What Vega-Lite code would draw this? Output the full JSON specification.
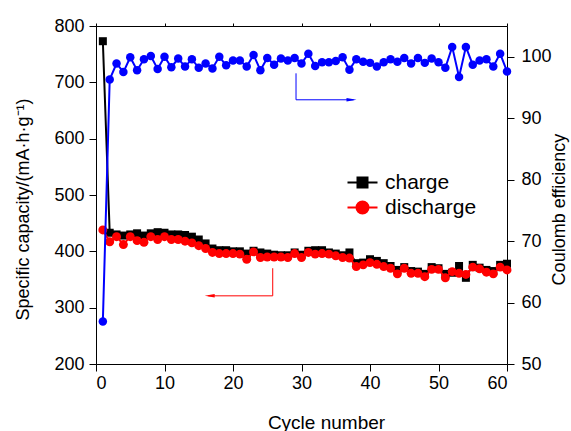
{
  "$schema": "https://vega.github.io/schema/vega-lite/v6.json",
  "width": 411,
  "height": 338,
  "autosize": {"type": "none"},
  "padding": {"left": 96, "top": 26, "right": 64, "bottom": 67},
  "background": "white",
  "config": {
    "view": {"stroke": null},
    "font": "Liberation Sans",
    "axis": {
      "domainColor": "black", "tickColor": "black", "labelColor": "black", "titleColor": "black",
      "labelFont": "Liberation Sans", "titleFont": "Liberation Sans",
      "labelFontSize": 18, "titleFontSize": 18, "titleFontWeight": "normal",
      "grid": false, "tickSize": 7, "domainWidth": 1, "tickWidth": 1
    }
  },
  "datasets": {
    "cycles": [
      {"cycle":1,"charge":773,"discharge":438,"eff":56.9},
      {"cycle":2,"charge":433,"discharge":417,"eff":96.3},
      {"cycle":3,"charge":430,"discharge":426,"eff":98.9},
      {"cycle":4,"charge":428,"discharge":412,"eff":97.5},
      {"cycle":5,"charge":430,"discharge":426,"eff":99.9},
      {"cycle":6,"charge":432,"discharge":419,"eff":97.8},
      {"cycle":7,"charge":428,"discharge":416,"eff":99.6},
      {"cycle":8,"charge":432,"discharge":426,"eff":100.1},
      {"cycle":9,"charge":434,"discharge":421,"eff":98.0},
      {"cycle":10,"charge":433,"discharge":426,"eff":100.0},
      {"cycle":11,"charge":430,"discharge":421,"eff":98.3},
      {"cycle":12,"charge":430,"discharge":421,"eff":99.7},
      {"cycle":13,"charge":429,"discharge":418,"eff":98.4},
      {"cycle":14,"charge":426,"discharge":415,"eff":99.6},
      {"cycle":15,"charge":421,"discharge":410,"eff":98.2},
      {"cycle":16,"charge":414,"discharge":405,"eff":98.9},
      {"cycle":17,"charge":405,"discharge":398,"eff":98.1},
      {"cycle":18,"charge":402,"discharge":396,"eff":100.0},
      {"cycle":19,"charge":402,"discharge":396,"eff":98.6},
      {"cycle":20,"charge":400,"discharge":396,"eff":99.4},
      {"cycle":21,"charge":400,"discharge":395,"eff":99.4},
      {"cycle":22,"charge":396,"discharge":386,"eff":98.4},
      {"cycle":23,"charge":401,"discharge":399,"eff":100.3},
      {"cycle":24,"charge":398,"discharge":389,"eff":97.8},
      {"cycle":25,"charge":396,"discharge":390,"eff":99.8},
      {"cycle":26,"charge":394,"discharge":390,"eff":98.7},
      {"cycle":27,"charge":393,"discharge":390,"eff":99.7},
      {"cycle":28,"charge":393,"discharge":389,"eff":99.4},
      {"cycle":29,"charge":398,"discharge":396,"eff":99.8},
      {"cycle":30,"charge":394,"discharge":389,"eff":98.9},
      {"cycle":31,"charge":401,"discharge":398,"eff":100.5},
      {"cycle":32,"charge":402,"discharge":395,"eff":98.5},
      {"cycle":33,"charge":402,"discharge":396,"eff":99.1},
      {"cycle":34,"charge":398,"discharge":395,"eff":99.1},
      {"cycle":35,"charge":396,"discharge":392,"eff":99.3},
      {"cycle":36,"charge":393,"discharge":389,"eff":99.9},
      {"cycle":37,"charge":398,"discharge":388,"eff":97.9},
      {"cycle":38,"charge":379,"discharge":373,"eff":99.6},
      {"cycle":39,"charge":380,"discharge":376,"eff":99.2},
      {"cycle":40,"charge":386,"discharge":380,"eff":99.0},
      {"cycle":41,"charge":383,"discharge":377,"eff":98.4},
      {"cycle":42,"charge":379,"discharge":373,"eff":99.1},
      {"cycle":43,"charge":374,"discharge":370,"eff":99.6},
      {"cycle":44,"charge":367,"discharge":360,"eff":99.2},
      {"cycle":45,"charge":372,"discharge":370,"eff":99.8},
      {"cycle":46,"charge":365,"discharge":361,"eff":98.9},
      {"cycle":47,"charge":364,"discharge":361,"eff":99.8},
      {"cycle":48,"charge":360,"discharge":355,"eff":99.0},
      {"cycle":49,"charge":372,"discharge":368,"eff":99.7},
      {"cycle":50,"charge":370,"discharge":368,"eff":99.1},
      {"cycle":51,"charge":360,"discharge":353,"eff":98.2},
      {"cycle":52,"charge":362,"discharge":364,"eff":101.6},
      {"cycle":53,"charge":374,"discharge":361,"eff":96.7},
      {"cycle":54,"charge":353,"discharge":359,"eff":101.6},
      {"cycle":55,"charge":376,"discharge":372,"eff":98.7},
      {"cycle":56,"charge":371,"discharge":369,"eff":99.4},
      {"cycle":57,"charge":367,"discharge":363,"eff":99.6},
      {"cycle":58,"charge":365,"discharge":360,"eff":98.4},
      {"cycle":59,"charge":376,"discharge":372,"eff":100.5},
      {"cycle":60,"charge":378,"discharge":367,"eff":97.6}
    ],
    "arrows": [
      {"arrow":"efficiency","x":29.2,"y":716,"x2":29.2,"y2":669},
      {"arrow":"efficiency","x":29.2,"y":669,"x2":37.6,"y2":669},
      {"arrow":"capacity","x":25.8,"y":370,"x2":25.8,"y2":321},
      {"arrow":"capacity","x":25.8,"y":321,"x2":16.4,"y2":321}
    ],
    "heads": [
      {"arrow":"efficiency","x":37.3,"y":669},
      {"arrow":"capacity","x":16.6,"y":321}
    ]
  },
  "layer": [
    {
      "layer": [
        {
          "data": {"name": "cycles"},
          "mark": {"type": "line", "color": "#000000", "strokeWidth": 2},
          "encoding": {
            "x": {"field": "cycle", "type": "quantitative", "scale": {"domain": [0, 60], "nice": false},
                  "axis": {"orient": "bottom", "values": [0,10,20,30,40,50,60], "title": "Cycle number", "labelPadding": 3, "titlePadding": 21, "titleFontSize": 19, "titleX": 230}},
            "y": {"field": "charge", "type": "quantitative", "scale": {"domain": [200, 800], "nice": false},
                  "axis": {"orient": "left", "values": [200,300,400,500,600,700,800], "title": "Specific capacity/(mA·h·g⁻¹)", "labelPadding": 5, "titlePadding": 21, "titleY": 183}}
          }
        },
        {
          "data": {"name": "cycles"},
          "mark": {"type": "point", "filled": true, "opacity": 1, "size": 64, "shape": "square", "color": "#000000"},
          "encoding": {
            "x": {"field": "cycle", "type": "quantitative"},
            "y": {"field": "charge", "type": "quantitative"}
          }
        },
        {
          "data": {"name": "cycles"},
          "mark": {"type": "line", "color": "#FF0000", "strokeWidth": 2},
          "encoding": {
            "x": {"field": "cycle", "type": "quantitative"},
            "y": {"field": "discharge", "type": "quantitative"}
          }
        },
        {
          "data": {"name": "cycles"},
          "mark": {"type": "point", "filled": true, "opacity": 1, "size": 80, "shape": "circle", "color": "#FF0000"},
          "encoding": {
            "x": {"field": "cycle", "type": "quantitative"},
            "y": {"field": "discharge", "type": "quantitative"}
          }
        },
        {
          "data": {"name": "cycles"},
          "transform": [{"fold": ["charge", "discharge"], "as": ["series", "capacity"]}, {"filter": "datum.cycle === 1"}],
          "mark": {"type": "point", "filled": true, "opacity": 0, "size": 100, "strokeWidth": 2},
          "encoding": {
            "x": {"field": "cycle", "type": "quantitative"},
            "y": {"field": "capacity", "type": "quantitative"},
            "fill": {"field": "series", "type": "nominal", "scale": {"domain": ["charge", "discharge"], "range": ["#000000", "#FF0000"]},
              "legend": {"title": null, "orient": "none", "legendX": 256, "legendY": 146, "labelFontSize": 21, "labelFont": "Liberation Sans", "labelColor": "black",
                "symbolSize": 100, "labelOffset": 12, "rowPadding": 3, "padding": 0, "symbolStrokeWidth": 2, "symbolOpacity": 1}},
            "stroke": {"field": "series", "type": "nominal", "scale": {"domain": ["charge", "discharge"], "range": ["#000000", "#FF0000"]},
              "legend": {"title": null, "orient": "none", "legendX": 256, "legendY": 146, "labelFontSize": 21, "labelFont": "Liberation Sans", "labelColor": "black",
                "symbolSize": 100, "labelOffset": 12, "rowPadding": 3, "padding": 0, "symbolStrokeWidth": 2, "symbolOpacity": 1}},
            "shape": {"field": "series", "type": "nominal",
              "scale": {"domain": ["charge", "discharge"], "range": ["M-3,0H3M-1,-1H1V1H-1Z", "M-3,0H3M-1.2,0A1.2,1.2,0,1,1,1.2,0A1.2,1.2,0,1,1,-1.2,0Z"]},
              "legend": {"title": null, "orient": "none", "legendX": 256, "legendY": 146, "labelFontSize": 21, "labelFont": "Liberation Sans", "labelColor": "black",
                "symbolSize": 100, "labelOffset": 12, "rowPadding": 3, "padding": 0, "symbolStrokeWidth": 2, "symbolOpacity": 1}}
          }
        },
        {
          "data": {"name": "arrows"},
          "transform": [{"filter": "datum.arrow === 'efficiency'"}],
          "mark": {"type": "rule", "color": "#0000FF", "strokeWidth": 1},
          "encoding": {
            "x": {"field": "x", "type": "quantitative"}, "y": {"field": "y", "type": "quantitative"},
            "x2": {"field": "x2"}, "y2": {"field": "y2"}
          }
        },
        {
          "data": {"name": "arrows"},
          "transform": [{"filter": "datum.arrow === 'capacity'"}],
          "mark": {"type": "rule", "color": "#FF0000", "strokeWidth": 1},
          "encoding": {
            "x": {"field": "x", "type": "quantitative"}, "y": {"field": "y", "type": "quantitative"},
            "x2": {"field": "x2"}, "y2": {"field": "y2"}
          }
        },
        {
          "data": {"name": "heads"},
          "transform": [{"filter": "datum.arrow === 'efficiency'"}],
          "mark": {"type": "point", "filled": true, "opacity": 1, "color": "#0000FF", "size": 100, "shape": "M-1,-0.35L1,0L-1,0.35Z"},
          "encoding": {"x": {"field": "x", "type": "quantitative"}, "y": {"field": "y", "type": "quantitative"}}
        },
        {
          "data": {"name": "heads"},
          "transform": [{"filter": "datum.arrow === 'capacity'"}],
          "mark": {"type": "point", "filled": true, "opacity": 1, "color": "#FF0000", "size": 100, "shape": "M1,-0.35L-1,0L1,0.35Z"},
          "encoding": {"x": {"field": "x", "type": "quantitative"}, "y": {"field": "y", "type": "quantitative"}}
        }
      ]
    },
    {
      "layer": [
        {
          "data": {"name": "cycles"},
          "mark": {"type": "line", "color": "#0000FF", "strokeWidth": 2},
          "encoding": {
            "x": {"field": "cycle", "type": "quantitative",
                  "axis": {"orient": "top", "values": [0,10,20,30,40,50,60], "labels": false, "title": null, "tickSize": 3}},
            "y": {"field": "eff", "type": "quantitative", "scale": {"domain": [50, 105], "nice": false},
                  "axis": {"orient": "right", "values": [50,60,70,80,90,100], "title": "Coulomb efficiency", "labelPadding": 7, "titlePadding": 17, "titleAngle": 270, "titleY": 183}}
          }
        },
        {
          "data": {"name": "cycles"},
          "mark": {"type": "point", "filled": true, "opacity": 1, "color": "#0000FF", "size": 72, "shape": "circle"},
          "encoding": {
            "x": {"field": "cycle", "type": "quantitative"},
            "y": {"field": "eff", "type": "quantitative"}
          }
        }
      ]
    }
  ],
  "resolve": {"scale": {"y": "independent"}, "axis": {"x": "independent"}}
}
